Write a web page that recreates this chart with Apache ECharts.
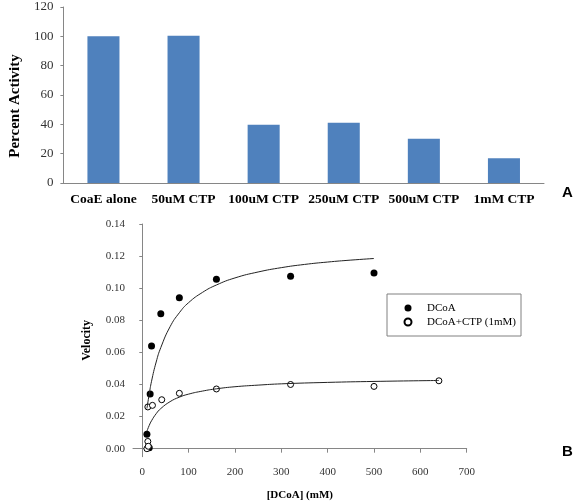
<!DOCTYPE html>
<html>
<head>
<meta charset="utf-8">
<script src="https://cdn.jsdelivr.net/npm/echarts@6/dist/echarts.min.js"></script>
<style>html,body{margin:0;padding:0;background:#fff;}#c{width:577px;height:503px;}</style>
</head>
<body>
<div id="c"></div>
<script>
// Panel A
const barCategories = ['CoaE alone', '50uM CTP', '100uM CTP', '250uM CTP', '500uM CTP', '1mM CTP'];
const barValues = [100, 100.4, 39.7, 41.1, 30.2, 16.8];
const barYTicks = [0, 20, 40, 60, 80, 100, 120];

// Panel B
const dcoaPoints = [[10, 0.009], [15, 0.0005], [17, 0.034], [20, 0.064], [40, 0.084], [80, 0.094], [160, 0.1055], [320, 0.1075], [500, 0.1095]];
const ctpPoints = [[10, 0.0], [12, 0.0045], [13, 0.0015], [12, 0.026], [22, 0.027], [42, 0.0305], [80, 0.0345], [160, 0.0372], [320, 0.0400], [500, 0.0388], [640, 0.0423]];
const dcoaFit = [[10, 0.025], [15, 0.034], [20, 0.042], [30, 0.054], [40, 0.063], [60, 0.076], [80, 0.0847], [100, 0.091], [130, 0.0974], [160, 0.102], [200, 0.1064], [250, 0.1101], [300, 0.1128], [350, 0.1148], [400, 0.1163], [450, 0.1175], [500, 0.1185]];
const ctpFit = [[10, 0.0108], [15, 0.0145], [20, 0.0174], [30, 0.0218], [40, 0.025], [60, 0.0293], [80, 0.0321], [100, 0.034], [130, 0.0359], [160, 0.0373], [200, 0.0386], [250, 0.0396], [300, 0.0404], [400, 0.0413], [500, 0.0419], [640, 0.0425]];
const velTicks = [0, 0.02, 0.04, 0.06, 0.08, 0.10, 0.12, 0.14];
const concTicks = [0, 100, 200, 300, 400, 500, 600, 700];

const serif = '"Liberation Serif", "DejaVu Serif", serif';
const axisGray = '#868686';

const chart = echarts.init(document.getElementById('c'), null, {renderer: 'canvas'});
chart.setOption({
  animation: false,
  backgroundColor: '#fff',
  grid: [
    {left: 56, right: 33, top: 7, height: 176},
    {left: 133, right: 110.3, top: 224, height: 232.7}
  ],
  xAxis: [
    {
      gridIndex: 0, type: 'category', data: barCategories, boundaryGap: true,
      axisLine: {lineStyle: {color: axisGray}},
      axisTick: {length: 4, lineStyle: {color: axisGray}},
      axisLabel: {color: '#000', fontFamily: serif, fontWeight: 'bold', fontSize: 13.5, margin: 10, interval: 0}
    },
    {
      gridIndex: 1, type: 'value', min: -20, max: 700,
      name: '[DCoA] (mM)', nameLocation: 'middle', nameGap: 33,
      nameTextStyle: {color: '#000', fontFamily: serif, fontWeight: 'bold', fontSize: 11},
      axisLine: {lineStyle: {color: axisGray}},
      axisTick: {show: true, length: 4, lineStyle: {color: axisGray}, customValues: concTicks},
      axisLabel: {color: '#333', fontFamily: serif, fontSize: 11, margin: 10, customValues: concTicks},
      splitLine: {show: false}
    }
  ],
  yAxis: [
    {
      gridIndex: 0, type: 'value', min: 0, max: 120, interval: 20,
      name: 'Percent Activity', nameLocation: 'middle', nameGap: 39,
      nameTextStyle: {color: '#000', fontFamily: serif, fontWeight: 'bold', fontSize: 15, padding: [0, 22, 0, 0]},
      axisLine: {show: true, lineStyle: {color: axisGray}},
      axisTick: {show: true, length: 3, lineStyle: {color: axisGray}},
      axisLabel: {color: '#333', fontFamily: serif, fontSize: 13, margin: 10, customValues: barYTicks},
      splitLine: {show: false}
    },
    {
      gridIndex: 1, type: 'value', min: -0.005, max: 0.14,
      name: 'Velocity', nameLocation: 'middle', nameGap: 40,
      nameTextStyle: {color: '#000', fontFamily: serif, fontWeight: 'bold', fontSize: 12},
      axisLine: {show: true, lineStyle: {color: axisGray}},
      axisTick: {show: true, length: 3, lineStyle: {color: axisGray}, customValues: velTicks},
      axisLabel: {color: '#333', fontFamily: serif, fontSize: 11, margin: 8, customValues: velTicks,
        formatter: v => v.toFixed(2)},
      splitLine: {show: false}
    }
  ],
  legend: {
    show: true, orient: 'vertical', left: 387, top: 294,
    data: ['DCoA', 'DCoA+CTP (1mM)'],
    itemWidth: 7, itemHeight: 7, itemGap: 2,
    padding: [8, 5, 8, 16.5],
    borderColor: '#808080', borderWidth: 1, borderRadius: 0,
    textStyle: {color: '#000', fontFamily: serif, fontSize: 11, lineHeight: 12, padding: [0, 0, 0, 10.5]}
  },
  series: [
    {
      type: 'bar', xAxisIndex: 0, yAxisIndex: 0, data: barValues,
      barWidth: '40%', itemStyle: {color: '#4F81BD'}
    },
    {
      type: 'line', xAxisIndex: 1, yAxisIndex: 1, data: dcoaFit, smooth: true, showSymbol: false,
      symbol: 'none', lineStyle: {color: '#222', width: 1}, silent: true
    },
    {
      type: 'line', xAxisIndex: 1, yAxisIndex: 1, data: ctpFit, smooth: true, showSymbol: false,
      symbol: 'none', lineStyle: {color: '#222', width: 1}, silent: true
    },
    {
      name: 'DCoA', type: 'scatter', xAxisIndex: 1, yAxisIndex: 1, data: dcoaPoints,
      symbol: 'circle', symbolSize: 7, clip: false,
      itemStyle: {color: '#000', borderColor: '#000', borderWidth: 0, opacity: 1}
    },
    {
      name: 'DCoA+CTP (1mM)', type: 'scatter', xAxisIndex: 1, yAxisIndex: 1, data: ctpPoints,
      symbol: 'circle', symbolSize: 6, clip: false,
      itemStyle: {color: '#fff', borderColor: '#000', borderWidth: 1, opacity: 1}
    }
  ],
  graphic: [
    {type: 'text', left: 562, top: 185, style: {text: 'A', font: 'bold 15px "Liberation Sans", Arial, sans-serif', fill: '#000'}},
    {type: 'text', left: 562, top: 444, style: {text: 'B', font: 'bold 15px "Liberation Sans", Arial, sans-serif', fill: '#000'}}
  ]
});
</script>
</body>
</html>
